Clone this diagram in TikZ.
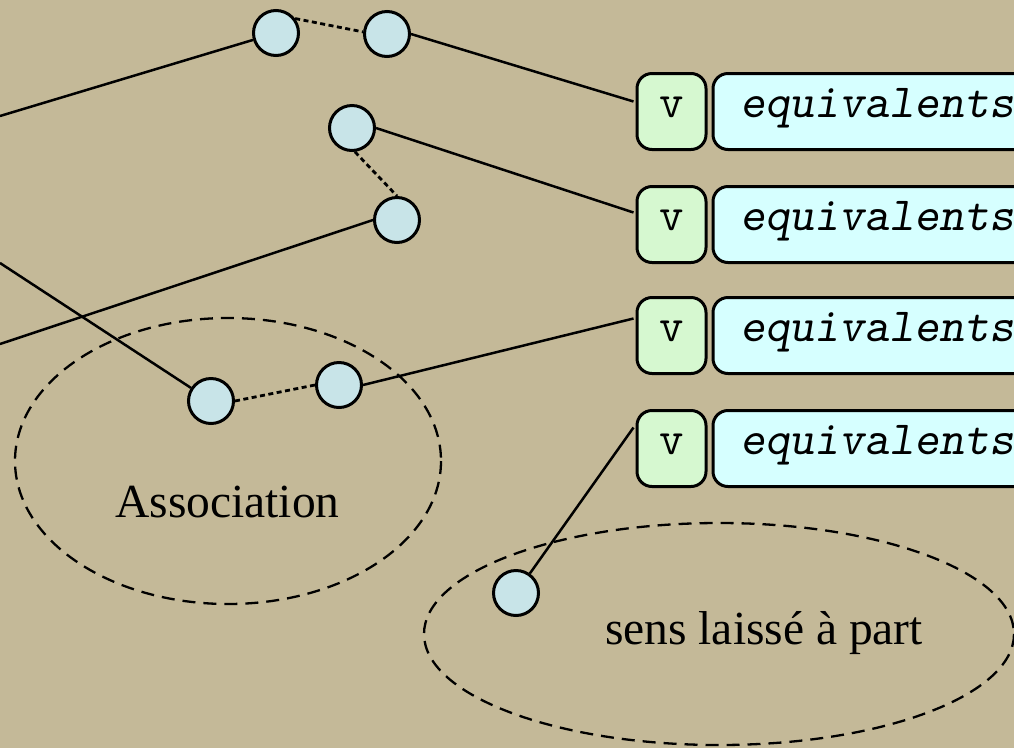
\documentclass[tikz,border=0pt]{standalone}
\usepackage{fontspec}
\setmainfont{Liberation Serif}
\usetikzlibrary{calc}

\definecolor{paper}{RGB}{196,185,152}
\definecolor{nodeblue}{RGB}{200,228,232}
\definecolor{taggreen}{RGB}{214,248,208}
\definecolor{tagcyan}{RGB}{214,255,255}

\newcommand{\labelfont}{\fontsize{47.5}{52}\selectfont}
\newcommand{\codefont}{\fontsize{47.6}{52}\selectfont\ttfamily}

\tikzset{
  dot/.style={circle, draw, line width=3pt, fill=nodeblue,
              minimum size=45pt, inner sep=0pt},
  link/.style={line width=2.5pt},
  weak/.style={line width=2.8pt, dash pattern=on 5pt off 3.5pt},
  zone/.style={line width=2.3pt, dash pattern=on 13pt off 8pt},
  vtag/.style={draw, line width=3pt, rounded corners=15pt, fill=taggreen,
               minimum width=69pt, minimum height=76pt, inner sep=0pt,
               text height=12pt, text depth=0pt, font=\codefont},
  eqtag/.style={draw, line width=3pt, rounded corners=15pt, fill=tagcyan,
                minimum height=76pt, inner xsep=27pt, inner ysep=0pt,
                anchor=west, text height=12pt, text depth=0pt,
                font=\codefont\slshape},
  caption/.style={font=\labelfont, inner sep=0pt, anchor=base}
}

\begin{document}
\begin{tikzpicture}[x=1pt, y=-1pt]
  % page and background
  \clip (0,0) rectangle (1014,748);
  \fill[paper] (0,0) rectangle (1014,748);

  % dashed regions
  \draw[zone] (228,461) ellipse [x radius=213, y radius=143];
  \draw[zone] (719,634) ellipse [x radius=295, y radius=111];
  \node[caption] (assoc) at (227.5,517) {Association};
  \node[caption] (sens) at (764,644) {sens laissé à part};

  % tags on the right
  \foreach \i/\y in {1/111.5, 2/224.5, 3/335.5, 4/448.5} {
    \node[vtag] (v\i) at (671.5,\y) {v};
    \node[eqtag] (eq\i) at (711.5,\y) {\makebox[380pt][l]{equivalents}};
  }

  % nodes
  \node[dot] (A) at (276,33) {};
  \node[dot] (B) at (387,34) {};
  \node[dot] (C) at (352,128) {};
  \node[dot] (D) at (397,220) {};
  \node[dot] (E) at (211,401) {};
  \node[dot] (F) at (339,385) {};
  \node[dot] (G) at (516,593) {};

  % loose ends running off the left edge
  \coordinate (l1) at (0,116);
  \coordinate (l2) at (0,263);
  \coordinate (l3) at (0,344);

  % connectors
  \draw[link] (l1) -- (A);
  \draw[link] (l2) -- (E);
  \draw[link] (l3) -- (D.west);
  \draw[weak] (A.37) -- (B.175);
  \draw[weak] (C.-83) -- (D.north);
  \draw[weak] (E.east) -- (F.west);
  \draw[link] (B.east) -- ($(v1.west)+(-2,-10)$);
  \draw[link] (C.east) -- ($(v2.west)+(-2,-12)$);
  \draw[link] (F.east) -- ($(v3.west)+(-2,-17)$);
  \draw[link] (G) -- ($(v4.west)+(-2,-21)$);
\end{tikzpicture}
\end{document}
